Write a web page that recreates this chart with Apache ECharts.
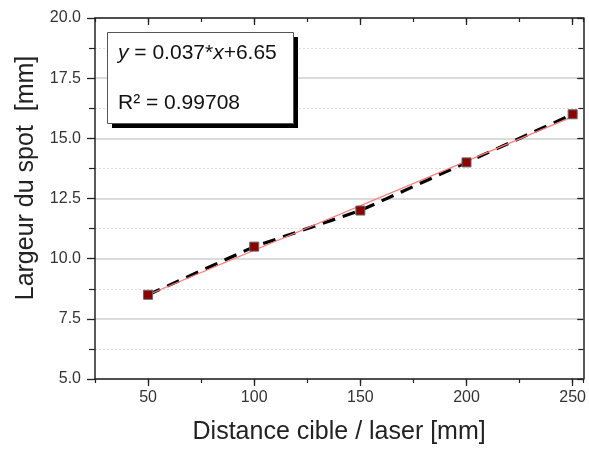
<!DOCTYPE html>
<html>
<head>
<meta charset="utf-8">
<script src="https://cdn.jsdelivr.net/npm/echarts@6/dist/echarts.min.js"></script>
<style>
html,body{margin:0;padding:0;background:#fff;}
#main{width:589px;height:450px;}
</style>
</head>
<body>
<div id="main"></div>
<script>
// Data
var distances = [50, 100, 150, 200, 250];
var spotWidths = [8.5, 10.5, 12.0, 14.0, 16.0];
var fitX = [50, 250];
var fitY = [8.5, 15.9];
var xMajorTicks = [50, 100, 150, 200, 250];
var fitEquation = '{i|y} = 0.037*{i|x}+6.65';
var fitR2 = 'R² = 0.99708';
var xTitle = 'Distance cible / laser [mm]';
var yTitle = 'Largeur du spot  [mm]';

var FONT = '"Liberation Sans", Arial, sans-serif';
var AX = '#222';

var chart = echarts.init(document.getElementById('main'));

function pairs(xs, ys) { return xs.map(function (x, i) { return [x, ys[i]]; }); }

var baseX = {
  type: 'value', min: 25, max: 255,
  splitLine: { show: false },
  axisLine: { show: true, onZero: false, lineStyle: { color: AX, width: 1.5 } }
};

var option = {
  animation: false,
  backgroundColor: '#fff',
  grid: { left: 95, right: 2, top: 18, bottom: 67, containLabel: false },
  xAxis: [
    Object.assign({}, baseX, {
      position: 'bottom', interval: 25,
      axisTick: { show: true, inside: false, length: 4, lineStyle: { color: AX, width: 1.2 } },
      axisLabel: { show: false },
      name: xTitle, nameLocation: 'middle', nameGap: 41,
      nameTextStyle: { fontFamily: FONT, fontSize: 25, color: '#222' }
    }),
    Object.assign({}, baseX, {
      position: 'bottom',
      axisLine: { show: false, onZero: false },
      axisTick: { show: true, inside: false, length: 7, customValues: xMajorTicks, lineStyle: { color: AX, width: 1.3 } },
      axisLabel: { show: true, customValues: xMajorTicks, margin: 11, fontFamily: FONT, fontSize: 16, color: '#333' }
    }),
    Object.assign({}, baseX, {
      position: 'top', interval: 25,
      axisTick: { show: true, inside: true, length: 4, lineStyle: { color: AX, width: 1.2 } },
      axisLabel: { show: false }
    }),
    Object.assign({}, baseX, {
      position: 'top',
      axisLine: { show: false, onZero: false },
      axisTick: { show: true, inside: true, length: 7, customValues: xMajorTicks, lineStyle: { color: AX, width: 1.3 } },
      axisLabel: { show: false }
    })
  ],
  yAxis: [
    {
      type: 'value', min: 5, max: 20, interval: 2.5, position: 'left',
      axisLine: { show: true, onZero: false, lineStyle: { color: AX, width: 1.5 } },
      axisTick: { show: true, inside: false, length: 8, lineStyle: { color: AX, width: 1.3 } },
      minorTick: { show: true, splitNumber: 2, length: 6, lineStyle: { color: AX, width: 1.2 } },
      splitLine: { show: true, lineStyle: { color: '#cfcfcf', width: 1.5 } },
      minorSplitLine: { show: true, lineStyle: { color: '#dedede', width: 1, type: [2, 2] } },
      axisLabel: { margin: 14, fontFamily: FONT, fontSize: 16, color: '#333',
        formatter: function (v) { return v.toFixed(1); } },
      name: yTitle, nameLocation: 'middle', nameGap: 56, nameRotate: 90,
      nameTextStyle: { fontFamily: FONT, fontSize: 25, color: '#222', padding: [0, 0, 0, 41] }
    },
    {
      type: 'value', min: 5, max: 20, interval: 2.5, position: 'right',
      axisLine: { show: true, onZero: false, lineStyle: { color: AX, width: 1.5 } },
      axisTick: { show: true, inside: true, length: 6, lineStyle: { color: AX, width: 1.3 } },
      minorTick: { show: true, splitNumber: 2, length: 5, lineStyle: { color: AX, width: 1.2 } },
      splitLine: { show: false },
      axisLabel: { show: false }
    }
  ],
  series: [
    {
      type: 'line', xAxisIndex: 0, yAxisIndex: 0,
      data: pairs(distances, spotWidths),
      showSymbol: false, symbol: 'none',
      lineStyle: { color: '#000', width: 3.2, type: [13, 8] },
      z: 2
    },
    {
      type: 'line', xAxisIndex: 0, yAxisIndex: 0,
      data: pairs(fitX, fitY),
      showSymbol: false, symbol: 'none',
      lineStyle: { color: '#ff7b7b', width: 1.3 },
      z: 3
    },
    {
      type: 'scatter', xAxisIndex: 0, yAxisIndex: 0,
      data: pairs(distances, spotWidths),
      symbol: 'rect', symbolSize: 9,
      itemStyle: { color: '#8b0000', borderColor: '#666', borderWidth: 1, opacity: 1 },
      z: 4
    }
  ],
  graphic: [
    { type: 'rect', left: 112, top: 37, z: 10,
      shape: { width: 186, height: 91 }, style: { fill: '#000' } },
    { type: 'rect', left: 107, top: 32, z: 11,
      shape: { width: 186, height: 91 }, style: { fill: '#fff', stroke: '#555', lineWidth: 1 } },
    { type: 'text', left: 118, top: 43, z: 12,
      style: { text: fitEquation, fontFamily: FONT, fontSize: 21, fill: '#111',
        rich: { i: { fontStyle: 'italic', fontFamily: FONT, fontSize: 21, fill: '#111' } } } },
    { type: 'text', left: 118, top: 93, z: 12,
      style: { text: fitR2, fontFamily: FONT, fontSize: 21, fill: '#111' } }
  ]
};

chart.setOption(option);
</script>
</body>
</html>
